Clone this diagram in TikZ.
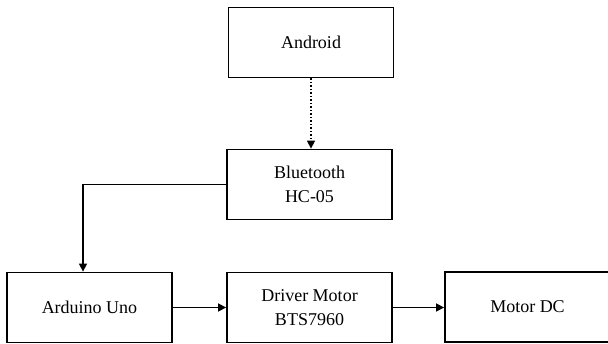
\documentclass[tikz,border=0pt]{standalone}
\usepackage{fontspec}
\setmainfont{Liberation Serif}
\usetikzlibrary{arrows.meta}
\begin{document}
\begin{tikzpicture}[x=1pt,y=-1pt,
  blk/.style={draw=black, line width=1.8pt, minimum width=165pt, minimum height=70pt,
    inner sep=0pt, align=center, font=\fontsize{18}{24}\selectfont},
  conn/.style={line width=1.5pt, -{Triangle[length=8pt,width=8pt]}}]
\useasboundingbox (0,0) rectangle (608,344);
\begin{scope}
\clip (0,0) rectangle (608,344);
\node[blk] (and) at (311,42.5) {Android};
\node[blk] (bt) at (309.5,184.5) {Bluetooth\\HC-05};
\node[blk] (ard) at (89.5,307.5) {Arduino Uno};
\node[blk] (drv) at (309.5,307.5) {Driver Motor\\BTS7960};
\node[blk] (mot) at (527.5,307) {Motor DC};
\end{scope}
\draw[conn, dotted] (and.south) -- (and.south |- bt.north);
\coordinate (elbow) at (83,184.5);
\draw[conn] (bt.west) -- (elbow) -- (elbow |- ard.north);
\draw[conn] (ard.east) -- (drv.west);
\draw[conn] (drv.east) -- (drv.east -| mot.west);
\end{tikzpicture}
\end{document}
